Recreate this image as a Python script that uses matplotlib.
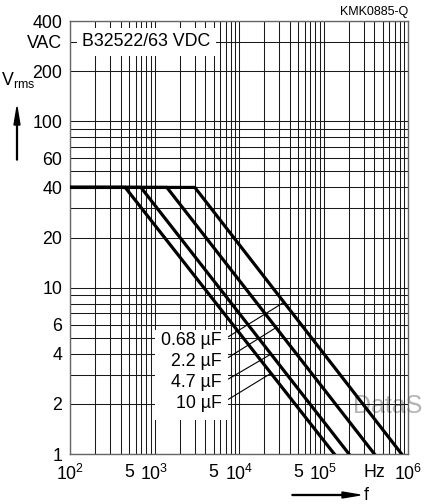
import matplotlib
matplotlib.use("Agg")
import matplotlib.pyplot as plt
from matplotlib.patches import Rectangle, FancyArrow
import numpy as np

plt.rcParams['font.family'] = ['Liberation Sans', 'DejaVu Sans']
plt.rcParams['mathtext.fontset'] = 'custom'
plt.rcParams['mathtext.rm'] = 'Liberation Sans'
plt.rcParams['mathtext.default'] = 'regular'

# capacitor curves: flat at v_max, then falling to v_min
caps = ['0.68 µF', '2.2 µF', '4.7 µF', '10 µF']
f_knee = [3000, 1400, 690, 450]
f_end = [8.4e5, 4.0e5, 2.0e5, 1.34e5]
f_start = 100
v_max = 40
v_min = 1

# label positions and where the leader lines meet the curves
label_f = 6.3e3
label_v = [4.8, 3.6, 2.68, 2.02]
leader_f = [3.4e4, 2.74e4, 2.39e4, 2.39e4]

x_grid = [m * 10**e for e in range(2, 6) for m in range(1, 10)] + [10**6]
x_labels = {100: '$10^2$', 500: '5', 1000: '$10^3$', 5000: '5', 10000: '$10^4$',
            50000: '5', 100000: '$10^5$', 400000: 'Hz', 1000000: '$10^6$'}
y_grid = list(range(1, 10)) + list(range(10, 100, 10)) + [100, 200, 300, 400]
y_labels = {1: '1', 2: '2', 4: '4', 6: '6', 10: '10', 20: '20', 40: '40', 60: '60',
            100: '100', 200: '200', 300: 'VAC', 400: '400'}


def curve_v(f, knee, end):
    if f <= knee:
        return v_max
    t = (np.log10(f) - np.log10(knee)) / (np.log10(end) - np.log10(knee))
    return 10 ** (np.log10(v_max) * (1 - t))


fig = plt.figure(figsize=(4.27, 5.04), dpi=100)
ax = fig.add_axes([0.164, 0.0992, 0.7916, 0.8591])
ax.patch.set_alpha(0)
ax.set_xscale('log')
ax.set_yscale('log')
ax.set_xlim(100, 1e6)
ax.set_ylim(1, 400)

ax.set_xticks(x_grid, [x_labels.get(v, '') for v in x_grid])
ax.set_yticks(y_grid, [y_labels.get(v, '') for v in y_grid])
ax.minorticks_off()
ax.tick_params(length=0, labelsize=12.8)
ax.tick_params(axis='y', pad=5.5)
ax.tick_params(axis='x', pad=7)
ax.set_axisbelow(True)
ax.grid(True, color='#1a1a1a', lw=0.75)
for s in ax.spines.values():
    s.set_color('#666666')
    s.set_linewidth(1.0)

for kn, en in zip(f_knee, f_end):
    ax.plot([f_start, kn, en], [v_max, v_max, v_min], color='black', lw=2.3,
            solid_joinstyle='miter', zorder=3)

# white box behind the capacitance labels
ax.add_patch(Rectangle((1.02e3, 1.6), 7.4e3 - 1.02e3, 5.56 - 1.6, facecolor='white',
                       edgecolor='none', zorder=1.5))

for name, lv, lf, kn, en in zip(caps, label_v, leader_f, f_knee, f_end):
    ax.annotate(name, xy=(lf, curve_v(lf, kn, en)), xytext=(label_f, lv),
                ha='right', va='center', fontsize=12.8, zorder=4,
                arrowprops=dict(arrowstyle='-', color='black', lw=0.8,
                                relpos=(1, 0.5), shrinkA=3, shrinkB=0))

ax.text(1.4e2, 300, 'B32522/63 VDC', fontsize=12.8, ha='left', va='center', zorder=4,
        bbox=dict(facecolor='white', edgecolor='none', pad=4))

fig.text(408 / 427, 1 - 12.5 / 504, 'KMK0885-Q', fontsize=9, ha='right', va='center')
fig.text(1 / 427, 1 - 80 / 504, r'V$_{\mathrm{rms}}$', fontsize=12.8, ha='left',
         va='center')
# faint watermark under the grid
fig.text(353 / 427, 1 - 406 / 504, 'DataS', fontsize=18, color='#b4b4b4', ha='left',
         va='center', zorder=-1)

# axis arrows
fig.patches.append(FancyArrow(
    17 / 427, 1 - 160 / 504, 0, 53 / 504, width=0.002, head_width=6 / 427,
    head_length=18 / 504, length_includes_head=True, color='black',
    transform=fig.transFigure, figure=fig))
fig.patches.append(FancyArrow(
    292 / 427, 1 - 495 / 504, 68 / 427, 0, width=0.0018, head_width=6 / 504,
    head_length=18 / 427, length_includes_head=True, color='black',
    transform=fig.transFigure, figure=fig))
fig.text(364 / 427, 1 - 495 / 504, 'f', fontsize=12.8, ha='left', va='center')

fig.savefig('out.png', dpi=100)
